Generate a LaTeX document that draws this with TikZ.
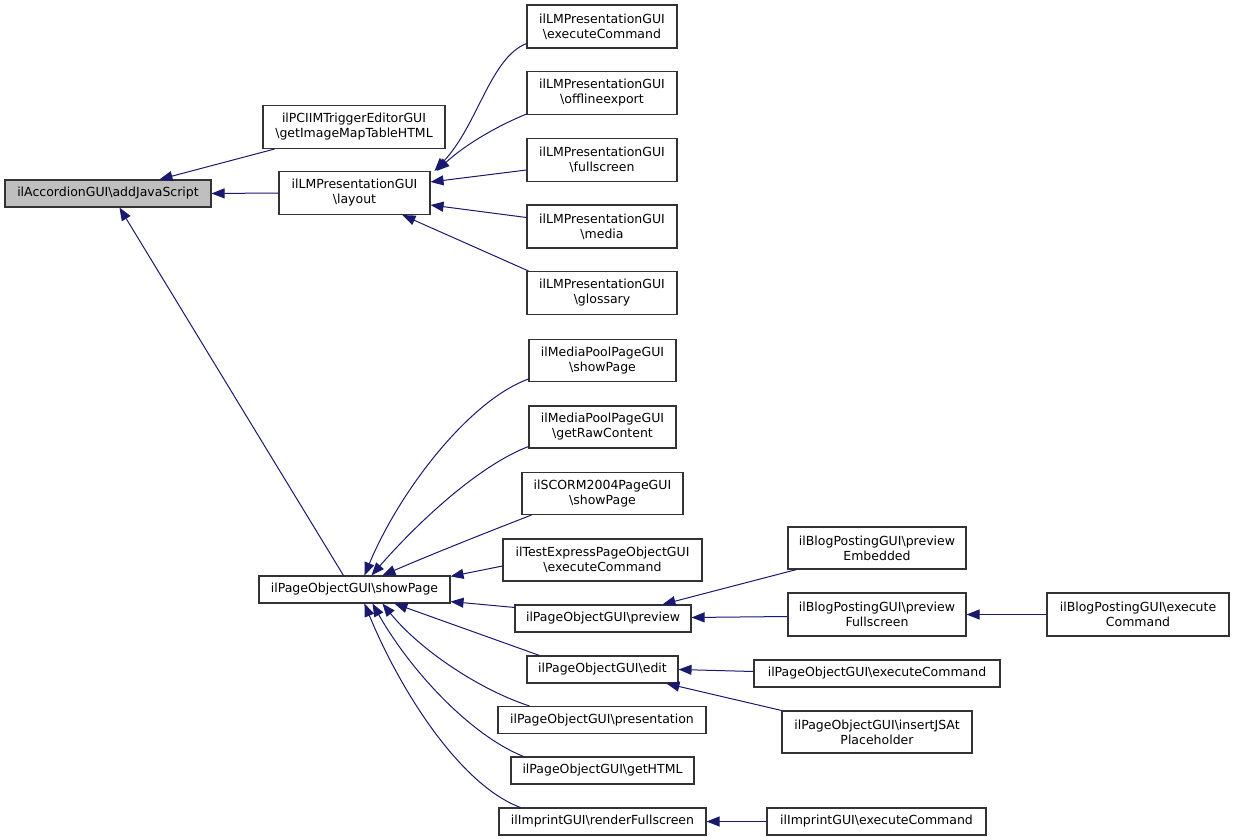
\documentclass[tikz,border=0pt]{standalone}
\usepackage{fontspec}
\newfontfamily\dejavu{DejaVu Sans}
\usetikzlibrary{arrows.meta,calc}
\definecolor{edgeblue}{HTML}{191970}
\definecolor{boxline}{HTML}{333333}
\definecolor{rootfill}{HTML}{BFBFBF}
\begin{document}
\begin{tikzpicture}[x=1pt,y=-1pt,
  box/.style={draw=boxline, line width=1.1pt, inner sep=0pt, align=center, fill=white,
    font=\dejavu\fontsize{12.5}{15}\selectfont},
  edge/.style={draw=edgeblue, line width=1pt, -{Triangle[length=13pt,width=10pt]}, edgeblue}]
\fill[white] (0,0) rectangle (1235,840);
\useasboundingbox (0,0) rectangle (1235,840);
% nodes
\node[box, fill=rootfill, minimum width=206pt, minimum height=27pt] (A) at (108,193.5) {ilAccordionGUI\textbackslash addJavaScript};
\node[box, minimum width=182pt, minimum height=43pt] (B) at (354,127) {ilPCIIMTriggerEditorGUI\\\textbackslash getImageMapTableHTML};
\node[box, minimum width=151pt, minimum height=43pt] (C) at (354.5,193) {ilLMPresentationGUI\\\textbackslash layout};
\node[box, minimum width=150pt, minimum height=43pt] (D1) at (602,26.5) {ilLMPresentationGUI\\\textbackslash executeCommand};
\node[box, minimum width=150pt, minimum height=43pt] (D2) at (602,93) {ilLMPresentationGUI\\\textbackslash offlineexport};
\node[box, minimum width=150pt, minimum height=43pt] (D3) at (602,160) {ilLMPresentationGUI\\\textbackslash fullscreen};
\node[box, minimum width=150pt, minimum height=43pt] (D4) at (602,226.5) {ilLMPresentationGUI\\\textbackslash media};
\node[box, minimum width=150pt, minimum height=43pt] (D5) at (602,293) {ilLMPresentationGUI\\\textbackslash glossary};
\node[box, minimum width=191pt, minimum height=27pt] (E) at (354.5,589.5) {ilPageObjectGUI\textbackslash showPage};
\node[box, minimum width=147pt, minimum height=42pt] (F1) at (602.5,360.5) {ilMediaPoolPageGUI\\\textbackslash showPage};
\node[box, minimum width=147pt, minimum height=42pt] (F2) at (602.5,427) {ilMediaPoolPageGUI\\\textbackslash getRawContent};
\node[box, minimum width=161pt, minimum height=42pt] (F3) at (602.5,493.5) {ilSCORM2004PageGUI\\\textbackslash showPage};
\node[box, minimum width=199pt, minimum height=42pt] (F4) at (602.5,560) {ilTestExpressPageObjectGUI\\\textbackslash executeCommand};
\node[box, minimum width=176pt, minimum height=27pt] (F5) at (603,618.5) {ilPageObjectGUI\textbackslash preview};
\node[box, minimum width=151pt, minimum height=27pt] (F6) at (602.5,669.5) {ilPageObjectGUI\textbackslash edit};
\node[box, minimum width=208pt, minimum height=27pt] (F7) at (602,720) {ilPageObjectGUI\textbackslash presentation};
\node[box, minimum width=183pt, minimum height=27pt] (F8) at (602.5,770.5) {ilPageObjectGUI\textbackslash getHTML};
\node[box, minimum width=207pt, minimum height=27pt] (F9) at (602.5,821.5) {ilImprintGUI\textbackslash renderFullscreen};
\node[box, minimum width=178pt, minimum height=42pt] (G1) at (877,548) {ilBlogPostingGUI\textbackslash preview\\Embedded};
\node[box, minimum width=178pt, minimum height=43pt] (G2) at (877,614.5) {ilBlogPostingGUI\textbackslash preview\\Fullscreen};
\node[box, minimum width=182pt, minimum height=43pt] (H) at (1138,614.5) {ilBlogPostingGUI\textbackslash execute\\Command};
\node[box, minimum width=246pt, minimum height=27pt] (G3) at (877,673.5) {ilPageObjectGUI\textbackslash executeCommand};
\node[box, minimum width=190pt, minimum height=42pt] (G4) at (877,732) {ilPageObjectGUI\textbackslash insertJSAt\\Placeholder};
\node[box, minimum width=219pt, minimum height=27pt] (G5) at (876.5,821.5) {ilImprintGUI\textbackslash executeCommand};
% edges
\draw[edge] (C.west) -- (A.east);
\draw[edge] ($(B.south west)+(12,0)$) -- ($(A.north west)+(155,0)$);
\draw[edge] ($(E.north west)+(85,0)$) -- ($(A.south west)+(115,0)$);
\draw[edge] ($(D1.south west)+(0,-5)$) .. controls (490,58) and (478,125) .. ($(C.north east)+(4,0)$);
\draw[edge] ($(D2.south west)+(0,-1)$) .. controls (495,127) and (465,145) .. ($(C.north east)+(6,0)$);
\draw[edge] ($(D3.west)+(0,10)$) -- ($(C.east)+(0,-11)$);
\draw[edge] ($(D4.west)+(0,-9)$) -- ($(C.east)+(0,12)$);
\draw[edge] ($(D5.north west)+(2,0)$) -- ($(C.south west)+(124,0)$);
\draw[edge] ($(F1.south west)+(0,-3)$) .. controls (470,400) and (400,490) .. ($(E.north west)+(106,0)$);
\draw[edge] ($(F2.south west)+(0,-2)$) .. controls (480,465) and (420,520) .. ($(E.north west)+(113,0)$);
\draw[edge] ($(F3.south west)+(10,0)$) .. controls (480,535) and (430,555) .. ($(E.north west)+(124,0)$);
\draw[edge] ($(F4.west)+(0,6)$) -- ($(E.north east)+(0,1)$);
\draw[edge] ($(F5.north west)+(0,3)$) -- ($(E.south east)+(0,-2)$);
\draw[edge] ($(F6.north west)+(13,0)$) -- ($(E.south west)+(136,0)$);
\draw[edge] ($(F7.north west)+(32,0)$) .. controls (480,690) and (420,650) .. ($(E.south west)+(124,0)$);
\draw[edge] ($(F8.north west)+(13,0)$) .. controls (470,735) and (410,670) .. ($(E.south west)+(114,0)$);
\draw[edge] ($(F9.north west)+(22,0)$) .. controls (460,785) and (400,690) .. ($(E.south west)+(106,0)$);
\draw[edge] ($(G1.south west)+(9,0)$) -- ($(F5.north west)+(148,0)$);
\draw[edge] ($(G2.west)+(0,2)$) -- ($(F5.east)+(0,-1)$);
\draw[edge] (H.west) -- (G2.east);
\draw[edge] ($(G3.west)+(0,-2)$) -- (F6.east);
\draw[edge] (G4.north west) -- ($(F6.south west)+(140,0)$);
\draw[edge] (G5.west) -- (F9.east);
\end{tikzpicture}
\end{document}
